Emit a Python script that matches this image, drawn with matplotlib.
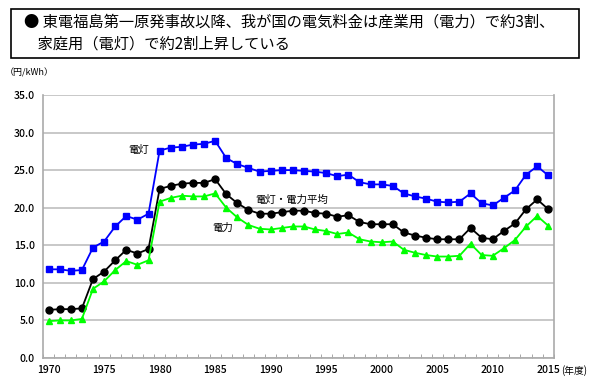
import numpy as np
import matplotlib.pyplot as plt
from matplotlib.patches import Rectangle

plt.rcParams['font.family'] = ['Noto Sans CJK JP', 'DejaVu Sans']

years = list(range(1970, 2016))

# 電灯 (household)
dento = [11.8, 11.8, 11.6, 11.7, 14.7, 15.5, 17.5, 18.9, 18.4, 19.2,
         27.6, 28.0, 28.1, 28.4, 28.5, 28.9, 26.6, 25.8, 25.3, 24.8,
         24.9, 25.0, 25.0, 24.9, 24.8, 24.6, 24.2, 24.4, 23.4, 23.1,
         23.1, 22.9, 21.9, 21.5, 21.2, 20.8, 20.7, 20.8, 21.9, 20.6,
         20.3, 21.3, 22.3, 24.4, 25.5, 24.3]

# 電灯・電力平均
heikin = [6.4, 6.5, 6.5, 6.6, 10.5, 11.5, 13.0, 14.4, 13.9, 14.5,
          22.5, 22.9, 23.2, 23.3, 23.3, 23.8, 21.8, 20.6, 19.7, 19.2,
          19.2, 19.4, 19.6, 19.6, 19.3, 19.2, 18.8, 19.0, 18.1, 17.8,
          17.8, 17.8, 16.7, 16.3, 16.0, 15.8, 15.8, 15.8, 17.3, 16.0,
          15.8, 16.9, 17.9, 19.8, 21.1, 19.8]

# 電力 (industrial)
denryoku = [4.9, 5.0, 5.0, 5.2, 9.2, 10.2, 11.7, 12.9, 12.4, 13.0,
            20.8, 21.3, 21.6, 21.5, 21.5, 21.9, 20.0, 18.7, 17.7, 17.2,
            17.1, 17.3, 17.5, 17.5, 17.1, 16.9, 16.5, 16.7, 15.8, 15.5,
            15.4, 15.5, 14.4, 14.0, 13.7, 13.5, 13.5, 13.6, 15.2, 13.7,
            13.6, 14.6, 15.7, 17.5, 18.9, 17.6]

title_lines = ['● 東電福島第一原発事故以降、我が国の電気料金は産業用（電力）で約3割、',
               '    家庭用（電灯）で約2割上昇している']

fig = plt.figure(figsize=(6, 3.83), dpi=100)
ax = fig.add_axes([0.0717, 0.0653, 0.8513, 0.6867])

grid_c = '#bfbfbf'
ax.plot(years, dento, color='#0000ff', lw=1.3, marker='s', ms=5, zorder=3)
ax.plot(years, heikin, color='black', lw=1.3, marker='o', ms=5, zorder=3)
ax.plot(years, denryoku, color='#00ff00', lw=1.3, marker='^', ms=5, zorder=3)

ax.set_xlim(1969.5, 2015.5)
ax.set_ylim(0, 35)
ax.set_yticks(np.arange(0, 35.1, 5))
ax.set_yticklabels(['%.1f' % v for v in np.arange(0, 35.1, 5)], fontsize=7.5, fontweight='medium')
ax.set_xticks(np.arange(1970, 2016, 5))
ax.set_xticklabels([str(y) for y in range(1970, 2016, 5)], fontsize=7.5, fontweight='medium')
ax.set_xticks(np.arange(1969.5, 2015.6, 1), minor=True)
ax.tick_params(axis='x', which='major', length=0, pad=5)
ax.tick_params(axis='x', which='minor', direction='in', length=3, color='#999999')
ax.tick_params(axis='y', length=0, pad=6)
ax.grid(axis='y', color=grid_c, lw=1.2)
ax.set_axisbelow(True)
for s in ax.spines.values():
    s.set_color('#aaaaaa')
    s.set_linewidth(1.2)
ax.spines['top'].set_visible(False)

fig.text(5 / 600, 1 - 73 / 383, '（円/kWh）', fontsize=6.5, va='center', ha='left')
fig.text(561 / 600, 1 - 371 / 383, '(年度)', fontsize=7, va='center', ha='left')
ax.text(1977.2, 27.7, '電灯', fontsize=7.5, va='center')
ax.text(1988.6, 21.0, '電灯・電力平均', fontsize=7.5, va='center')
ax.text(1984.7, 17.3, '電力', fontsize=7.5, va='center')

fig.patches.append(Rectangle((11 / 600, 1 - 58 / 383), 568 / 600, 49 / 383,
                             transform=fig.transFigure, fill=False,
                             edgecolor='black', lw=1.2))
fig.text(24 / 600, 1 - 22 / 383, title_lines[0], fontsize=11, va='center', ha='left')
fig.text(24 / 600, 1 - 44 / 383, title_lines[1], fontsize=11, va='center', ha='left')

fig.savefig('out.png', dpi=100)
